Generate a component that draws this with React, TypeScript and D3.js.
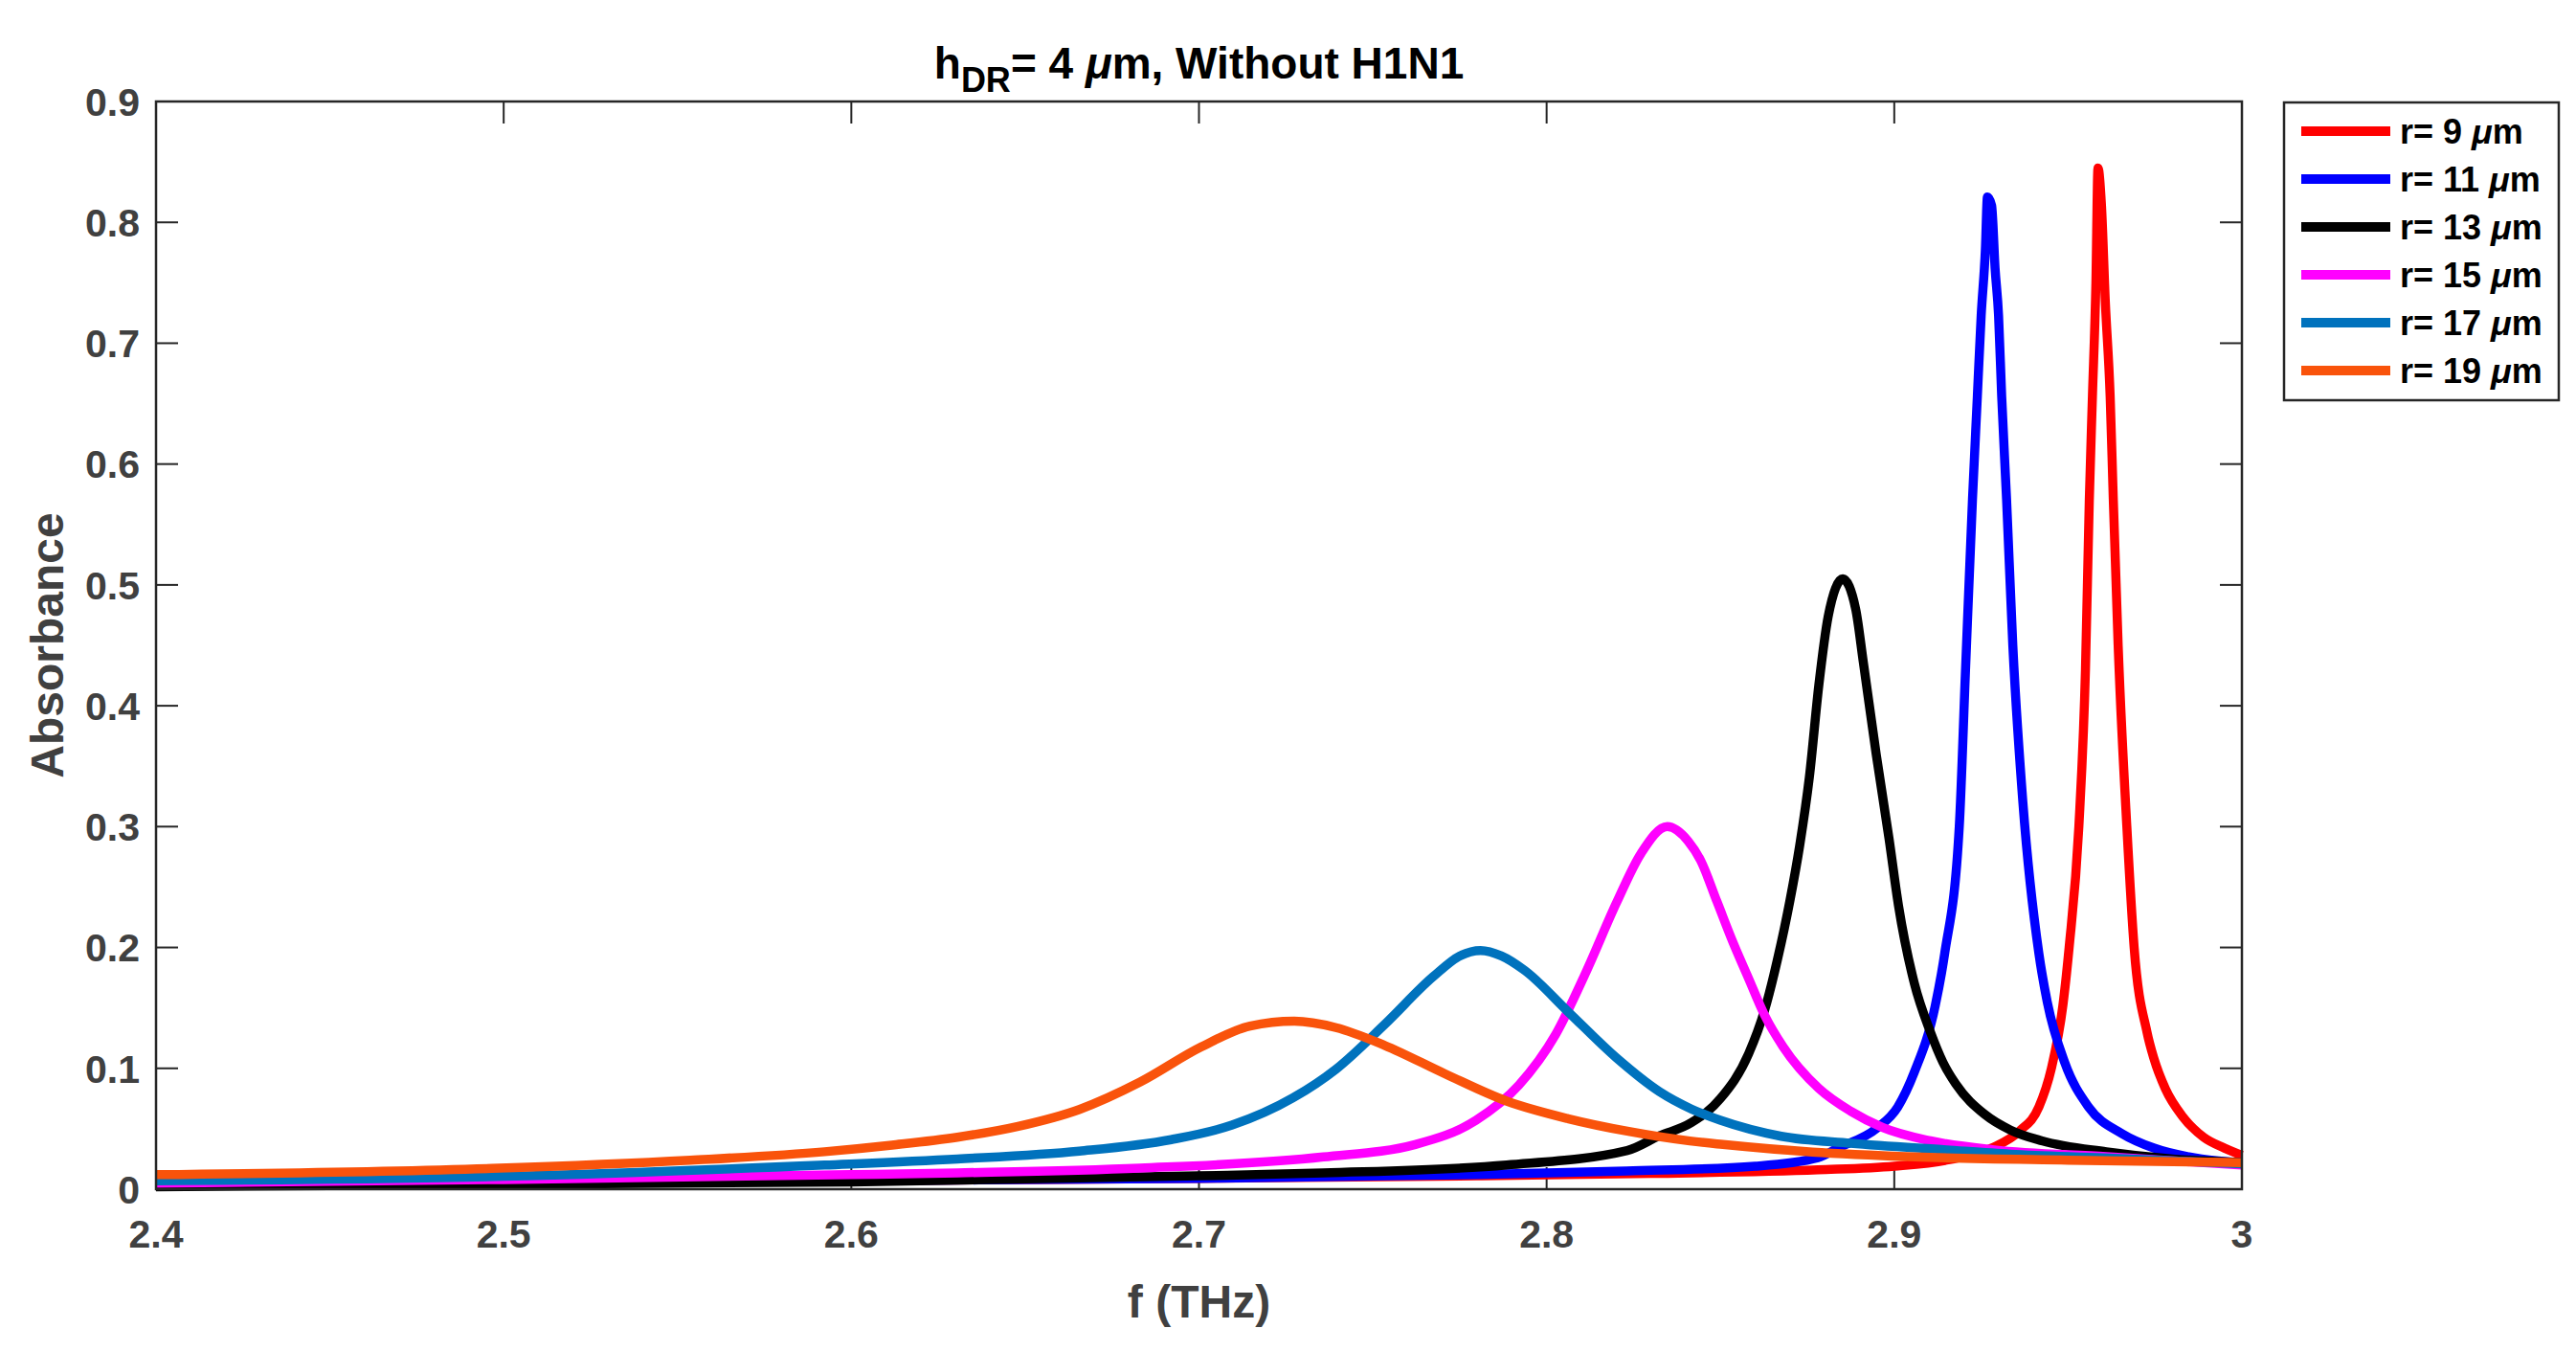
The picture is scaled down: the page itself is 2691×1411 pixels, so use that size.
import { useEffect, useRef } from 'react';
import * as d3 from 'd3';

// frequency (THz) and absorbance
const fR9 = [2.40, 2.50, 2.60, 2.70, 2.78, 2.83, 2.878, 2.90, 2.915, 2.928, 2.936, 2.9416, 2.9452, 2.9485, 2.9503, 2.9531, 2.955, 2.9561, 2.957, 2.958, 2.9586, 2.9596, 2.9607, 2.9621, 2.963, 2.9644, 2.9669, 2.969, 2.9727, 2.9747, 2.978, 2.983, 2.989, 2.995, 3.0];
const aR9 = [0.003, 0.005, 0.007, 0.009, 0.011, 0.013, 0.016, 0.019, 0.024, 0.034, 0.048, 0.068, 0.100, 0.152, 0.200, 0.300, 0.43, 0.57, 0.656, 0.75, 0.845, 0.814, 0.735, 0.656, 0.571, 0.45, 0.30, 0.20, 0.13, 0.108, 0.083, 0.060, 0.043, 0.034, 0.028];

const fR11 = [2.40, 2.50, 2.60, 2.70, 2.78, 2.823, 2.86, 2.878, 2.8838, 2.8948, 2.901, 2.9058, 2.9118, 2.9145, 2.9187, 2.9205, 2.9225, 2.9239, 2.925, 2.9262, 2.9268, 2.928, 2.929, 2.930, 2.9309, 2.9323, 2.9341, 2.937, 2.9416, 2.944, 2.949, 2.9559, 2.9655, 2.9747, 2.9884, 3.0];
const aR11 = [0.003, 0.005, 0.007, 0.009, 0.012, 0.015, 0.019, 0.026, 0.034, 0.050, 0.068, 0.097, 0.152, 0.195, 0.30, 0.43, 0.571, 0.656, 0.723, 0.777, 0.821, 0.814, 0.762, 0.723, 0.656, 0.571, 0.45, 0.32, 0.195, 0.155, 0.105, 0.068, 0.046, 0.034, 0.025, 0.022];

const fR13 = [2.40, 2.50, 2.60, 2.70, 2.7358, 2.7885, 2.8232, 2.8323, 2.8416, 2.85, 2.8581, 2.8627, 2.8664, 2.870, 2.8728, 2.8756, 2.8783, 2.881, 2.8852, 2.8889, 2.8911, 2.8948, 2.8985, 2.9012, 2.9058, 2.9104, 2.914, 2.9177, 2.926, 2.9334, 2.9425, 2.961, 2.98, 3.0];
const aR13 = [0.002, 0.004, 0.006, 0.011, 0.0135, 0.020, 0.032, 0.044, 0.055, 0.075, 0.112, 0.148, 0.19, 0.239, 0.2845, 0.3415, 0.417, 0.474, 0.505, 0.48, 0.436, 0.36, 0.29, 0.235, 0.17, 0.13, 0.105, 0.087, 0.062, 0.049, 0.040, 0.031, 0.025, 0.022];

const fR15 = [2.40, 2.50, 2.60, 2.6305, 2.683, 2.7358, 2.7622, 2.7797, 2.792, 2.8026, 2.8114, 2.8201, 2.8272, 2.8347, 2.8407, 2.8443, 2.849, 2.8535, 2.858, 2.8627, 2.868, 2.8783, 2.8875, 2.8967, 2.9104, 2.9287, 2.961, 3.0];
const aR15 = [0.005, 0.008, 0.012, 0.0135, 0.0174, 0.0267, 0.037, 0.057, 0.086, 0.128, 0.180, 0.237, 0.278, 0.300, 0.288, 0.272, 0.238, 0.205, 0.175, 0.144, 0.118, 0.0834, 0.0645, 0.051, 0.040, 0.0325, 0.027, 0.020];

const fR17 = [2.40, 2.50, 2.5923, 2.6305, 2.6656, 2.692, 2.7095, 2.727, 2.7394, 2.7534, 2.7674, 2.775, 2.781, 2.787, 2.7937, 2.8061, 2.8201, 2.8324, 2.8416, 2.85, 2.8675, 2.8874, 2.915, 2.9334, 2.96, 3.0];
const aR17 = [0.007, 0.0106, 0.020, 0.025, 0.0315, 0.041, 0.053, 0.0755, 0.0993, 0.1363, 0.1759, 0.193, 0.1975, 0.193, 0.181, 0.147, 0.1086, 0.0808, 0.0664, 0.057, 0.0438, 0.038, 0.0325, 0.029, 0.026, 0.021];

const fR19 = [2.40, 2.4966, 2.5537, 2.5923, 2.6117, 2.6305, 2.648, 2.6656, 2.6831, 2.7007, 2.7147, 2.7274, 2.7394, 2.7534, 2.7709, 2.7885, 2.8061, 2.8236, 2.8412, 2.8507, 2.8764, 2.9058, 2.95, 3.0];
const aR19 = [0.012, 0.0172, 0.024, 0.031, 0.0365, 0.043, 0.052, 0.066, 0.0887, 0.1178, 0.135, 0.139, 0.1337, 0.119, 0.0953, 0.0729, 0.0584, 0.0478, 0.0399, 0.037, 0.0307, 0.0267, 0.024, 0.022];

const radii = ['9', '11', '13', '15', '17', '19'];
const colors = ['#FF0000', '#0000FF', '#000000', '#FF00FF', '#0072BD', '#F9530B'];
const freqs = [fR9, fR11, fR13, fR15, fR17, fR19];
const absorb = [aR9, aR11, aR13, aR15, aR17, aR19];

const xTicks = [2.4, 2.5, 2.6, 2.7, 2.8, 2.9, 3.0];
const xTickLabels = ['2.4', '2.5', '2.6', '2.7', '2.8', '2.9', '3'];
const yTicks = [0, 0.1, 0.2, 0.3, 0.4, 0.5, 0.6, 0.7, 0.8, 0.9];
const yTickLabels = ['0', '0.1', '0.2', '0.3', '0.4', '0.5', '0.6', '0.7', '0.8', '0.9'];

const FONT = '"Liberation Sans", Arial, Helvetica, sans-serif';

export default function App() {
  const svgRef = useRef<SVGSVGElement>(null);

  useEffect(() => {
    const width = 2691;
    const height = 1411;
    const left = 163, right = 2342, top = 106, bottom = 1242;

    const svg = d3.select(svgRef.current);
    svg.selectAll('*').remove();
    svg.attr('width', width).attr('height', height);

    svg.append('rect').attr('width', width).attr('height', height).attr('fill', '#fff');

    const x = d3.scaleLinear().domain([2.4, 3.0]).range([left, right]);
    const y = d3.scaleLinear().domain([0, 0.9]).range([bottom, top]);

    const axisColor = '#262626';
    const tickLen = 23;

    // tick marks on all four sides, pointing inward
    const g = svg.append('g');
    xTicks.forEach((t) => {
      g.append('line').attr('x1', x(t)).attr('x2', x(t)).attr('y1', bottom).attr('y2', bottom - tickLen)
        .attr('stroke', axisColor).attr('stroke-width', 2);
      g.append('line').attr('x1', x(t)).attr('x2', x(t)).attr('y1', top).attr('y2', top + tickLen)
        .attr('stroke', axisColor).attr('stroke-width', 2);
    });
    yTicks.forEach((t) => {
      g.append('line').attr('x1', left).attr('x2', left + tickLen).attr('y1', y(t)).attr('y2', y(t))
        .attr('stroke', axisColor).attr('stroke-width', 2);
      g.append('line').attr('x1', right).attr('x2', right - tickLen).attr('y1', y(t)).attr('y2', y(t))
        .attr('stroke', axisColor).attr('stroke-width', 2);
    });

    // tick labels
    svg.append('g').selectAll('text').data(xTicks).enter().append('text')
      .attr('x', (d) => x(d)).attr('y', bottom + 61)
      .attr('text-anchor', 'middle')
      .attr('font-family', FONT).attr('font-weight', 'bold').attr('font-size', 41)
      .attr('fill', '#404040')
      .text((d, i) => xTickLabels[i]);

    svg.append('g').selectAll('text').data(yTicks).enter().append('text')
      .attr('x', left - 17).attr('y', (d) => y(d)).attr('dy', '0.36em')
      .attr('text-anchor', 'end')
      .attr('font-family', FONT).attr('font-weight', 'bold').attr('font-size', 41)
      .attr('fill', '#404040')
      .text((d, i) => yTickLabels[i]);

    // curves
    const line = d3.line<[number, number]>()
      .x((d) => x(d[0]))
      .y((d) => y(d[1]))
      .curve(d3.curveMonotoneX);

    const plot = svg.append('g');
    freqs.forEach((fs, i) => {
      const pts: [number, number][] = fs.map((f, j) => [f, absorb[i][j]]);
      plot.append('path')
        .attr('d', line(pts) as string)
        .attr('fill', 'none')
        .attr('stroke', colors[i])
        .attr('stroke-width', 9.5)
        .attr('stroke-linejoin', 'round');
    });

    // axes box
    svg.append('rect')
      .attr('x', left).attr('y', top).attr('width', right - left).attr('height', bottom - top)
      .attr('fill', 'none').attr('stroke', axisColor).attr('stroke-width', 2.5);

    // axis labels
    svg.append('text')
      .attr('x', (left + right) / 2).attr('y', 1376)
      .attr('text-anchor', 'middle')
      .attr('font-family', FONT).attr('font-weight', 'bold').attr('font-size', 48)
      .attr('fill', '#404040')
      .text('f (THz)');

    svg.append('text')
      .attr('transform', `translate(66, ${(top + bottom) / 2}) rotate(-90)`)
      .attr('text-anchor', 'middle')
      .attr('font-family', FONT).attr('font-weight', 'bold').attr('font-size', 48)
      .attr('fill', '#404040')
      .text('Absorbance');

    // title
    const title = svg.append('text')
      .attr('x', (left + right) / 2).attr('y', 82)
      .attr('text-anchor', 'middle')
      .attr('font-family', FONT).attr('font-weight', 'bold').attr('font-size', 46)
      .attr('fill', '#000');
    title.append('tspan').text('h');
    title.append('tspan').attr('font-size', 36).attr('dy', 14).text('DR');
    title.append('tspan').attr('dy', -14).text('= 4 ');
    title.append('tspan').attr('font-style', 'italic').text('\u03BC');
    title.append('tspan').text('m, Without H1N1');

    // legend
    const lg = svg.append('g');
    lg.append('rect')
      .attr('x', 2386).attr('y', 107).attr('width', 287).attr('height', 311)
      .attr('fill', '#fff').attr('stroke', axisColor).attr('stroke-width', 2.5);
    radii.forEach((r, i) => {
      const cy = 137 + i * 50;
      lg.append('line').attr('x1', 2404).attr('x2', 2497).attr('y1', cy).attr('y2', cy)
        .attr('stroke', colors[i]).attr('stroke-width', 10);
      const t = lg.append('text')
        .attr('x', 2507).attr('y', cy).attr('dy', '0.36em')
        .attr('font-family', FONT).attr('font-weight', 'bold').attr('font-size', 36)
        .attr('fill', '#000');
      t.append('tspan').text(`r= ${r} `);
      t.append('tspan').attr('font-style', 'italic').text('\u03BC');
      t.append('tspan').text('m');
    });
  }, []);

  return <svg ref={svgRef} style={{ position: 'absolute', left: 0, top: 0, display: 'block' }} />;
}
